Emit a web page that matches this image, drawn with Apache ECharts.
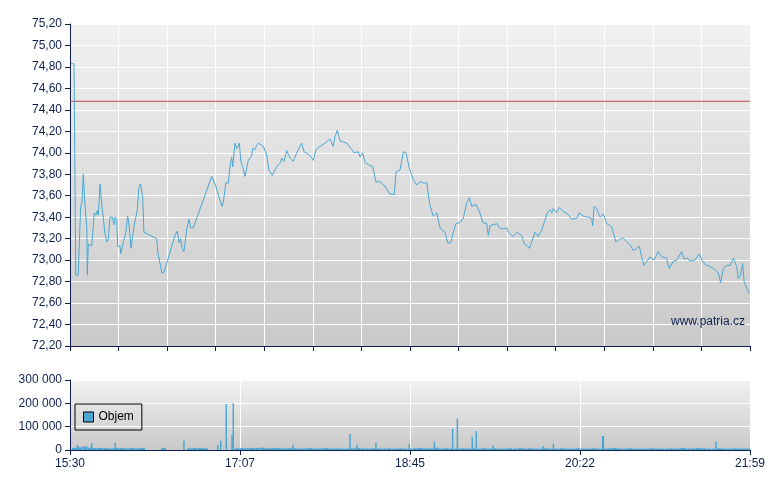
<!DOCTYPE html>
<html>
<head>
<meta charset="utf-8">
<script src="https://cdn.jsdelivr.net/npm/echarts@6/dist/echarts.min.js"></script>
<style>
  html, body { margin: 0; padding: 0; background: #fff; }
  #chart { width: 780px; height: 490px; }
</style>
</head>
<body>
<div id="chart"></div>
<script>
// minutes od 15:30 (konec 21:59 = 389)
const priceTimes = [0.4, 2.3, 3.3, 4.7, 6.1, 6.9, 7.6, 8.6, 9.6, 9.9, 10.5, 12.4, 13.9, 14.9, 15.6, 16.2, 17.2, 18.1, 19.1, 20.0,
  21.0, 21.9, 22.9, 24.2, 25.2, 25.7, 26.7, 27.3, 28.6, 29.0, 30.5, 31.9, 33.0, 33.9, 34.9, 36.6, 38.5, 39.5, 40.4, 41.6,
  42.3, 49.6, 50.3, 50.9, 52.5, 53.8, 55.9, 58.2, 60.1, 61.4, 62.4, 63.3, 64.2, 65.2, 66.8, 68.1, 69.0, 70.5, 81.1, 83.4,
  84.3, 85.4, 87.0, 87.7, 89.2, 90.6, 91.5, 92.5, 93.1, 94.4, 95.4, 96.3, 96.9, 97.7, 98.8, 100.1, 102.0, 103.9, 104.5, 105.8,
  106.8, 107.7, 110.6, 112.5, 113.8, 115.7, 118.2, 120.5, 121.1, 122.4, 124.0, 125.9, 127.7, 129.7, 132.5, 133.9, 136.9, 139.2, 140.7, 143.0,
  145.9, 148.7, 150.6, 151.6, 152.9, 154.5, 158.3, 161.2, 162.5, 164.9, 165.9, 167.4, 168.8, 170.6, 173.2, 175.0, 177.3, 180.2, 182.7, 185.5,
  186.5, 188.8, 190.7, 192.2, 194.1, 196.4, 198.3, 200.2, 202.1, 204.1, 205.9, 207.8, 209.8, 211.7, 214.5, 216.1, 217.8, 219.3, 220.8, 223.1,
  225.0, 226.9, 228.4, 229.8, 232.3, 234.5, 236.1, 238.4, 239.3, 240.3, 244.1, 245.6, 247.9, 249.8, 250.8, 253.6, 255.5, 258.4, 259.7, 262.8,
  264.1, 266.0, 267.9, 269.8, 271.7, 273.0, 274.6, 275.6, 276.5, 278.4, 279.9, 282.2, 284.1, 287.0, 289.9, 291.4, 293.6, 296.5, 298.4, 299.0,
  299.8, 301.3, 303.2, 305.1, 307.0, 309.9, 312.3, 314.2, 316.2, 318.5, 320.4, 322.2, 324.2, 325.7, 327.0, 328.4, 329.9, 331.8, 334.1, 336.5,
  338.5, 341.3, 342.8, 345.1, 347.1, 349.9, 351.3, 353.1, 354.7, 357.5, 360.0, 361.4, 363.3, 366.1, 369.0, 370.9, 372.2, 373.7, 375.7, 377.6,
  379.4, 381.4, 382.3, 383.5, 384.8, 385.6, 387.1, 388.6];
const prices = [74.83, 74.83, 72.86, 72.86, 73.50, 73.54, 73.80, 73.50, 73.31, 72.86, 73.15, 73.13, 73.44, 73.42, 73.46, 73.42, 73.71, 73.53, 73.52, 73.25,
  73.17, 73.19, 73.40, 73.40, 73.33, 73.40, 73.38, 73.13, 73.13, 73.06, 73.17, 73.25, 73.41, 73.31, 73.11, 73.31, 73.47, 73.69, 73.71, 73.58,
  73.26, 73.20, 73.06, 73.02, 72.88, 72.89, 73.00, 73.13, 73.23, 73.27, 73.16, 73.20, 73.11, 73.08, 73.29, 73.38, 73.30, 73.30, 73.78, 73.69,
  73.68, 73.58, 73.50, 73.54, 73.72, 73.72, 73.87, 73.96, 73.87, 74.09, 74.04, 74.06, 74.09, 73.92, 73.87, 73.78, 73.93, 73.97, 74.04, 74.03,
  74.07, 74.09, 74.06, 73.98, 73.84, 73.79, 73.87, 73.91, 73.95, 73.92, 74.02, 73.95, 73.92, 74.00, 74.09, 74.01, 73.98, 73.93, 74.03, 74.06,
  74.09, 74.13, 74.06, 74.15, 74.21, 74.11, 74.09, 74.03, 74.00, 74.01, 73.96, 74.00, 73.91, 73.89, 73.87, 73.73, 73.73, 73.69, 73.62, 73.61,
  73.82, 73.84, 74.01, 74.00, 73.86, 73.75, 73.70, 73.73, 73.72, 73.72, 73.51, 73.41, 73.44, 73.30, 73.26, 73.16, 73.16, 73.26, 73.34, 73.35,
  73.39, 73.53, 73.58, 73.50, 73.52, 73.44, 73.35, 73.34, 73.23, 73.32, 73.34, 73.30, 73.29, 73.30, 73.26, 73.22, 73.26, 73.23, 73.16, 73.11,
  73.17, 73.26, 73.22, 73.28, 73.37, 73.44, 73.47, 73.44, 73.48, 73.44, 73.49, 73.45, 73.44, 73.38, 73.39, 73.44, 73.41, 73.40, 73.39, 73.32,
  73.50, 73.48, 73.40, 73.43, 73.34, 73.31, 73.17, 73.19, 73.21, 73.17, 73.14, 73.09, 73.11, 73.13, 73.03, 72.95, 72.99, 73.03, 73.00, 73.08,
  73.03, 73.02, 72.92, 72.99, 73.00, 73.08, 73.01, 73.02, 72.99, 73.00, 73.06, 73.00, 72.96, 72.94, 72.91, 72.88, 72.79, 72.92, 72.95, 72.95,
  73.02, 72.94, 72.83, 72.85, 72.97, 72.80, 72.74, 72.69];
const refPrice = 74.48;

// objem: podklad po 3 minutách + jednotlivé špičky
const baseStep = 3;
const baseVolume = [9000, 12000, 15000, 10000, 8000, 9000, 8000, 7000, 9000, 8000, 7000, 8000, 7000, 8000, 0, 0, 0, 8000, 0, 0,
  0, 0, 7000, 8000, 9000, 7000, 0, 0, 0, 0, 0, 7000, 8000, 7000, 8000, 9000, 10000, 7000, 9000, 8000,
  7000, 8000, 7000, 6000, 7000, 8000, 6000, 7000, 8000, 6000, 7000, 6000, 6000, 7000, 8000, 7000, 6000, 7000, 6000, 6000,
  7000, 6000, 7000, 6000, 6000, 7000, 8000, 7000, 7000, 10000, 6000, 7000, 6000, 6000, 7000, 6000, 7000, 6000, 8000, 6000,
  7000, 6000, 6000, 7000, 6000, 8000, 6000, 7000, 6000, 6000, 7000, 6000, 6000, 7000, 6000, 6000, 7000, 6000, 6000, 7000,
  6000, 6000, 7000, 8000, 6000, 6000, 7000, 6000, 6000, 6000, 7000, 6000, 6000, 6000, 7000, 6000, 9000, 6000, 7000, 8000,
  7000, 6000, 6000, 7000, 6000, 6000, 7000, 6000, 6000, 7000];
const spikeTimes = [4.2, 12.4, 25.9, 65.2, 84.5, 86.2, 89.4, 92.7, 93.4, 127.6, 160.2, 164.2, 175.0, 194.1, 208.4, 218.9, 221.6, 230.1, 232.4, 242.0,
  270.6, 276.5, 304.7, 305.1, 369.6];
const spikeVolume = [22000, 31000, 30000, 40000, 21000, 40000, 197000, 64000, 200000, 22000, 69000, 22000, 31000, 27000, 36000, 91000, 134000, 57000, 81000, 20000,
  17000, 27000, 60000, 60000, 36000];

const tMax = 389;
const ink = '#0d1f4f';
const lineColor = '#4aa7d2';

function hhmm (m) {
  const total = 15 * 60 + 30 + Math.round(m);
  const h = Math.floor(total / 60);
  const mm = total % 60;
  return h + ':' + (mm < 10 ? '0' : '') + mm;
}

function grad (top, bottom) {
  return new echarts.graphic.LinearGradient(0, 0, 0, 1, [
    { offset: 0, color: top },
    { offset: 1, color: bottom }
  ]);
}

const axisCommon = {
  axisLine: { show: true, lineStyle: { color: ink, width: 1 } },
  axisTick: { show: true, length: 5, lineStyle: { color: ink } },
  axisLabel: { color: ink, fontFamily: 'Liberation Sans, Arial', fontSize: 12 },
  splitLine: { show: true, lineStyle: { color: '#ffffff', width: 1 } }
};

const chart = echarts.init(document.getElementById('chart'));
chart.setOption({
  animation: false,
  backgroundColor: '#ffffff',
  grid: [
    { left: 70, right: 30, top: 24, height: 322, show: true, borderWidth: 0, backgroundColor: grad('#f1f1f1', '#c9c9c9') },
    { left: 70, right: 30, top: 380, height: 70, show: true, borderWidth: 0, backgroundColor: grad('#f1f1f1', '#c9c9c9') }
  ],
  xAxis: [
    Object.assign({}, axisCommon, {
      type: 'value', gridIndex: 0, min: 0, max: tMax, interval: tMax / 14,
      axisLabel: { show: false }
    }),
    Object.assign({}, axisCommon, {
      type: 'value', gridIndex: 1, min: 0, max: tMax, interval: tMax / 4,
      axisLabel: Object.assign({}, axisCommon.axisLabel, { formatter: hhmm, showMinLabel: true, showMaxLabel: true })
    })
  ],
  yAxis: [
    Object.assign({}, axisCommon, {
      type: 'value', gridIndex: 0, min: 72.2, max: 75.2, interval: 0.2,
      axisLabel: Object.assign({}, axisCommon.axisLabel, { formatter: v => v.toFixed(2).replace('.', ',') })
    }),
    Object.assign({}, axisCommon, {
      type: 'value', gridIndex: 1, min: 0, max: 300000, interval: 100000,
      axisLabel: Object.assign({}, axisCommon.axisLabel, { formatter: v => String(v).replace(/\B(?=(\d{3})+(?!\d))/g, ' ') })
    })
  ],
  legend: {
    data: [{ name: 'Objem', itemStyle: { color: lineColor, borderColor: '#000', borderWidth: 1 } }],
    left: 75, top: 404,
    orient: 'vertical',
    borderColor: '#000', borderWidth: 1,
    padding: [7, 8, 7, 8],
    itemWidth: 10, itemHeight: 10,
    icon: 'rect',
    textStyle: { color: '#000', fontFamily: 'Liberation Sans, Arial', fontSize: 12 }
  },
  graphic: [
    { type: 'text', right: 35, top: 316, z: 100, style: { text: 'www.patria.cz', fill: ink, font: '12px Liberation Sans, Arial' } }
  ],
  series: [
    {
      name: 'Ref',
      type: 'line',
      xAxisIndex: 0, yAxisIndex: 0,
      symbol: 'none',
      silent: true,
      lineStyle: { color: '#c8454a', width: 1 },
      data: [[0, refPrice], [tMax, refPrice]]
    },
    {
      name: 'Cena',
      type: 'line',
      xAxisIndex: 0, yAxisIndex: 0,
      symbol: 'none',
      lineStyle: { color: lineColor, width: 1 },
      data: priceTimes.map((t, i) => [t, prices[i]])
    },
    {
      name: 'Objem',
      type: 'bar',
      xAxisIndex: 1, yAxisIndex: 1,
      barWidth: 5,
      itemStyle: { color: lineColor },
      data: baseVolume.map((v, i) => [i * baseStep + 1.5, v])
    },
    {
      name: 'Objem',
      type: 'bar',
      xAxisIndex: 1, yAxisIndex: 1,
      barWidth: 1.5,
      barGap: '-100%',
      itemStyle: { color: lineColor },
      data: spikeTimes.map((t, i) => [t, spikeVolume[i]])
    }
  ]
});
</script>
</body>
</html>
